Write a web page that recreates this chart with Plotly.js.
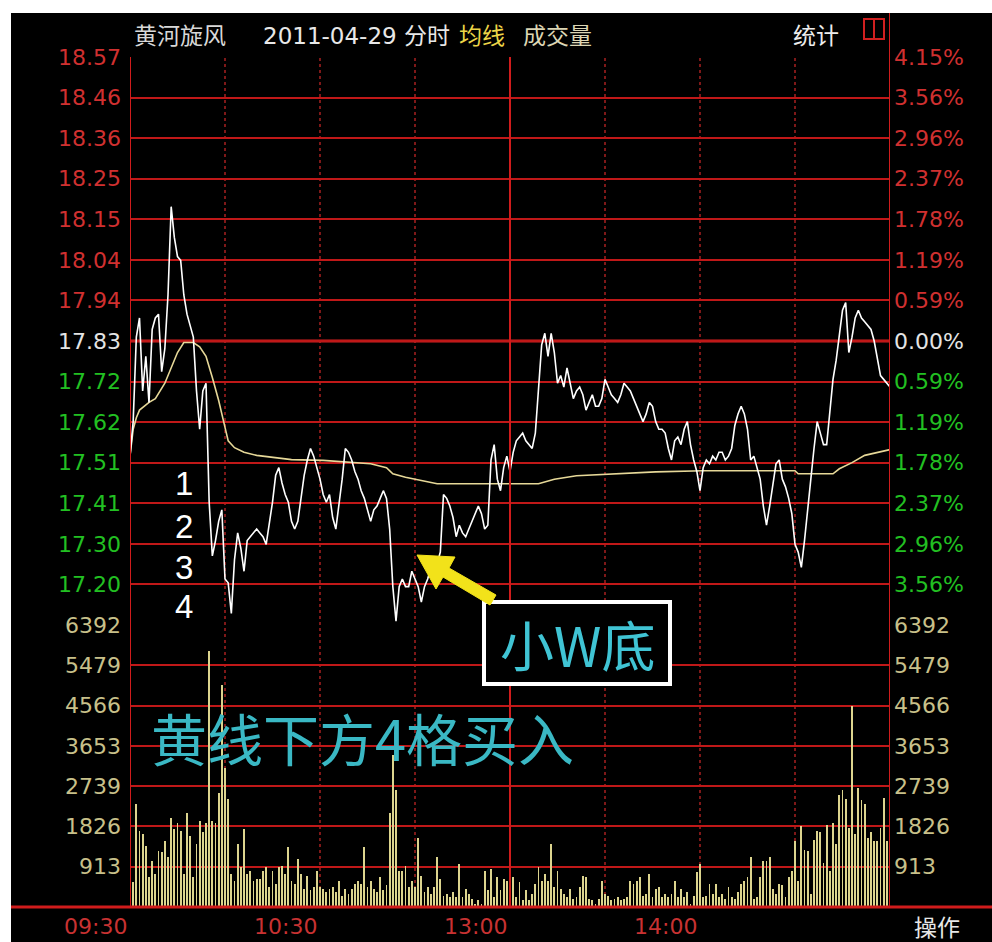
<!DOCTYPE html>
<html><head><meta charset="utf-8">
<script src="https://cdn.plot.ly/plotly-3.0.1.min.js"></script>
<style>
html,body{margin:0;padding:0;background:#fff;width:992px;height:942px;overflow:hidden}
#chart{position:absolute;left:11px;top:13px;width:981px;height:929px;background:#000}
</style></head><body><div id="chart"></div>
<script>
// ---- data ----
const prevClose = 17.83;
const priceTickLabels = ['17.20','17.30','17.41','17.51','17.62','17.72','17.83','17.94','18.04','18.15','18.25','18.36','18.46','18.57'];
const pctTickLabels = ['3.56%','2.96%','2.37%','1.78%','1.19%','0.59%','0.00%','0.59%','1.19%','1.78%','2.37%','2.96%','3.56%','4.15%'];
const volTickLabels = ['913','1826','2739','3653','4566','5479','6392'];
const timeTickLabels = ['09:30','10:30','13:00','14:00'];
const timeTickMinutes = [0,60,120,180];

const price = [
17.53,17.62,17.84,17.89,17.70,17.79,17.67,17.86,17.89,17.90,
17.75,17.81,17.95,18.18,18.10,18.05,18.04,17.95,17.90,17.87,
17.84,17.70,17.60,17.70,17.72,17.41,17.27,17.31,17.36,17.39,
17.21,17.20,17.12,17.26,17.33,17.29,17.23,17.31,17.32,17.33,
17.34,17.33,17.32,17.30,17.35,17.41,17.48,17.50,17.46,17.43,
17.41,17.36,17.34,17.36,17.42,17.48,17.52,17.55,17.53,17.50,
17.47,17.43,17.41,17.43,17.37,17.34,17.40,17.47,17.55,17.54,
17.52,17.49,17.47,17.44,17.42,17.39,17.36,17.39,17.40,17.42,
17.44,17.42,17.34,17.19,17.10,17.19,17.21,17.19,17.19,17.23,
17.21,17.19,17.15,17.19,17.21,17.24,17.22,17.25,17.28,17.43,
17.42,17.40,17.37,17.32,17.35,17.33,17.32,17.34,17.36,17.38,
17.40,17.38,17.34,17.35,17.52,17.56,17.47,17.44,17.50,17.53,
17.49,17.54,17.57,17.58,17.59,17.57,17.56,17.55,17.59,17.72,
17.82,17.85,17.79,17.85,17.80,17.72,17.74,17.71,17.76,17.72,
17.68,17.70,17.71,17.69,17.65,17.67,17.69,17.66,17.66,17.68,
17.73,17.71,17.69,17.68,17.67,17.69,17.72,17.71,17.70,17.68,
17.66,17.64,17.62,17.64,17.67,17.66,17.62,17.60,17.60,17.59,
17.55,17.52,17.57,17.58,17.56,17.60,17.62,17.56,17.52,17.49,
17.44,17.50,17.52,17.51,17.53,17.52,17.54,17.54,17.52,17.53,
17.55,17.61,17.64,17.66,17.64,17.60,17.52,17.53,17.50,17.47,
17.40,17.35,17.40,17.46,17.51,17.52,17.47,17.45,17.42,17.38,
17.30,17.28,17.24,17.31,17.40,17.47,17.55,17.62,17.59,17.56,
17.56,17.65,17.73,17.78,17.85,17.91,17.93,17.80,17.84,17.89,
17.91,17.89,17.88,17.87,17.86,17.83,17.78,17.74,17.73,17.72,
17.71
];

const avgMinutes = [0,1,2,3,6,8,11,13,15,17,20,22,24,26,28,30,31,33,36,40,46,51,61,69,76,81,83,87,92,97,129,131,134,141,154,166,181,210,211,222,224,228,232,236,240];
const avgPrice = [17.53,17.60,17.63,17.65,17.67,17.68,17.72,17.76,17.80,17.826,17.826,17.815,17.79,17.735,17.675,17.605,17.57,17.552,17.54,17.532,17.526,17.521,17.519,17.514,17.51,17.50,17.484,17.475,17.466,17.458,17.458,17.463,17.47,17.479,17.484,17.489,17.492,17.492,17.484,17.484,17.497,17.513,17.532,17.54,17.547];

const volume = [
5475,560,2325,1725,1650,1390,675,1050,750,1275,
1240,1500,1125,2025,1760,1910,1725,750,2140,1610,
675,1425,1950,1690,1910,5810,1950,1910,2590,5025,
3150,2440,750,600,1425,900,1760,750,825,600,
640,640,825,900,450,825,525,900,940,750,
1350,600,525,1090,750,410,710,375,450,825,
450,410,340,410,450,340,600,260,410,300,
410,525,600,525,1350,450,600,410,340,675,
375,490,2140,3450,2660,825,825,940,450,600,
450,1575,710,340,450,300,450,1125,640,260,
300,225,340,225,975,225,410,300,190,75,
150,75,825,375,865,225,675,375,640,600,
600,675,225,560,150,375,150,300,525,900,
600,750,600,1425,450,825,410,300,225,410,
190,225,450,710,675,190,150,75,190,600,
300,260,150,190,225,150,190,225,600,525,
600,675,260,300,750,225,410,450,225,300,
225,300,600,225,410,225,340,75,260,790,
975,225,260,525,300,525,225,300,190,450,
225,190,340,525,600,675,1125,190,225,675,
1050,1050,1125,410,300,525,490,225,675,825,
1500,600,1840,1290,1275,300,1520,1725,1700,1000,
1860,825,1900,1425,2540,2650,2440,1800,4550,1650,
2700,2420,2325,1575,1690,1500,1500,1800,2475,1500,
2650
];

// ---- helpers (layout only) ----
const minutes = price.map((_, i) => i);
const step = (parseFloat(priceTickLabels[priceTickLabels.length-1]) - prevClose) / 7;
const priceTickVals = priceTickLabels.map((_, i) => prevClose + (i - 6) * step);
const pRange = [prevClose - 7*step, prevClose + 7*step + 1e-6];
const volTickVals = volTickLabels.map(Number);
const RED='#d03030', WHITE='#e4e4e4', GREEN='#22c022', VOLC='#c8c08a';
const colorFor = i => i < 6 ? GREEN : (i === 6 ? WHITE : RED);
const priceText = priceTickLabels.map((t,i)=>`<span style="color:${colorFor(i)}">${t}</span>`);
const pctText = pctTickLabels.map((t,i)=>`<span style="color:${colorFor(i)}">${t}</span>`);

const PL=130, PR=890, PT=57, PB=907;
const px = x => (x-PL)/(PR-PL);
const py = y => (PB-y)/(PB-PT);
const volTop = py(625);

const lblFont = {family:'DejaVu Sans, sans-serif', size:22};
const gridRed = '#c01818';

const traces = [
  {x: minutes, y: volume, type:'bar', xaxis:'x', yaxis:'y3', width:0.62,
   marker:{color:'#dcd48e', line:{width:0}}, hoverinfo:'skip'},
  {x: avgMinutes, y: avgPrice, type:'scatter', mode:'lines', xaxis:'x', yaxis:'y',
   line:{color:'#e6d898', width:1.6}, hoverinfo:'skip'},
  {x: minutes, y: price, type:'scatter', mode:'lines', xaxis:'x', yaxis:'y',
   line:{color:'#ffffff', width:1.6}, hoverinfo:'skip'},
  {x:[0], y:[prevClose], type:'scatter', mode:'markers', xaxis:'x', yaxis:'y2', marker:{opacity:0}, hoverinfo:'skip'},
  {x:[0], y:[0], type:'scatter', mode:'markers', xaxis:'x', yaxis:'y4', marker:{opacity:0}, hoverinfo:'skip'}
];

const shapes = [];
[30,60,90,150,180,210].forEach(m => shapes.push({type:'line', xref:'x', yref:'paper', x0:m, x1:m, y0:0, y1:1,
  line:{color:'#a82020', width:1.5, dash:'dot'}, layer:'below'}));
[0,120].forEach(m => shapes.push({type:'line', xref:'x', yref:'paper', x0:m, x1:m, y0:0, y1:1,
  line:{color:'#d01c1c', width:2}, layer:'above'}));
shapes.push({type:'line', xref:'x', yref:'paper', x0:240, x1:240, y0:0, y1:py(13),
  line:{color:'#d01c1c', width:2}});
shapes.push({type:'line', xref:'paper', yref:'y', x0:0, x1:1, y0:prevClose, y1:prevClose,
  line:{color:'#d42020', width:3}, layer:'below'});
shapes.push({type:'line', xref:'paper', yref:'paper', x0:-0.2, x1:1.2, y0:0, y1:0,
  line:{color:'#d01c1c', width:3}});
shapes.push({type:'rect', xref:'paper', yref:'paper', x0:px(484), x1:px(670), y0:py(684), y1:py(602),
  fillcolor:'#000', line:{color:'#ffffff', width:4}});
const arrowPts = [[417,555],[455,557],[449,568],[496,595],[490,605],[443,577],[436,589]];
shapes.push({type:'path', xref:'paper', yref:'paper',
  path: 'M' + arrowPts.map(p => px(p[0]) + ',' + py(p[1])).join(' L') + ' Z',
  fillcolor:'#f2e21a', line:{color:'#f2e21a', width:1}});
shapes.push({type:'rect', xref:'paper', yref:'paper', x0:px(864), x1:px(884), y0:py(39), y1:py(19),
  line:{color:'#d02020', width:2}, fillcolor:'rgba(0,0,0,0)'});
shapes.push({type:'line', xref:'paper', yref:'paper', x0:px(874), x1:px(874), y0:py(39), y1:py(19),
  line:{color:'#d02020', width:2}});

const annotations = [];
timeTickMinutes.forEach((m,i) => annotations.push({x:m, y:0, xref:'x', yref:'paper', text:timeTickLabels[i],
  showarrow:false, xanchor:'right', yanchor:'top', yshift:-5, xshift:-1, font:{family:'DejaVu Sans', size:22, color:'#c83232'}}));
annotations.push({x:px(912), y:py(926), xref:'paper', yref:'paper', text:'操作', showarrow:false,
  xanchor:'left', yanchor:'middle', font:{family:'Noto Sans CJK SC', size:23, color:'#e8e8e8'}});
const titleParts = [
  {t:'黄河旋风', x:132, c:'#d8d8d8'},
  {t:'2011-04-29 分时', x:261, c:'#e8e8e8'},
  {t:'均线', x:457, c:'#ecd448'},
  {t:'成交量', x:521, c:'#dcd6b4'},
  {t:'统计', x:791, c:'#ececec'}
];
titleParts.forEach(p => annotations.push({x:px(p.x), y:py(36), xref:'paper', yref:'paper', text:p.t, showarrow:false,
  xanchor:'left', yanchor:'middle', font:{family:'DejaVu Sans, Noto Sans CJK SC', size:23, color:p.c}}));
['1','2','3','4'].forEach((n,i) => annotations.push({x:px(184), y:py([483,526,567,607][i]), xref:'paper', yref:'paper',
  text:n, showarrow:false, xanchor:'center', yanchor:'middle', borderpad:0,
  font:{family:'Liberation Sans, Arial', size:33, color:'#ffffff'}}));
annotations.push({x:px(577), y:py(643), xref:'paper', yref:'paper', text:'小W底', showarrow:false,
  xanchor:'center', yanchor:'middle', font:{family:'Noto Sans CJK SC', size:54, color:'#40c4d4'}});
annotations.push({x:px(149), y:py(736), xref:'paper', yref:'paper', text:'黄线下方4格买入', showarrow:false,
  xanchor:'left', yanchor:'middle', font:{family:'Noto Sans CJK SC', size:56, color:'#3ab8c4'}});

const layout = {
  width:981, height:929,
  margin:{l:119, r:102, t:44, b:35, pad:0},
  paper_bgcolor:'#000', plot_bgcolor:'#000',
  showlegend:false, hovermode:false, bargap:0,
  xaxis:{range:[0,240], anchor:'y3', showgrid:false, zeroline:false, showticklabels:false, showline:false, fixedrange:true},
  yaxis:{domain:[volTop,1], range:pRange, tickmode:'array', tickvals:priceTickVals, ticktext:priceText,
    showgrid:true, gridcolor:gridRed, gridwidth:2, zeroline:false, showline:false, tickfont:lblFont, ticklabelstandoff:8},
  yaxis2:{overlaying:'y', side:'right', range:pRange, tickmode:'array', tickvals:priceTickVals, ticktext:pctText,
    showgrid:false, zeroline:false, showline:false, tickfont:lblFont, ticklabelstandoff:3},
  yaxis3:{domain:[0,volTop], range:[0,6392.5], tickmode:'array', tickvals:volTickVals, ticktext:volTickLabels,
    showgrid:true, gridcolor:gridRed, gridwidth:2, zeroline:false, showline:false,
    tickfont:{family:'DejaVu Sans, sans-serif', size:22, color:VOLC}, ticklabelstandoff:8},
  yaxis4:{overlaying:'y3', side:'right', range:[0,6392.5], tickmode:'array', tickvals:volTickVals, ticktext:volTickLabels,
    showgrid:false, zeroline:false, showline:false,
    tickfont:{family:'DejaVu Sans, sans-serif', size:22, color:VOLC}, ticklabelstandoff:3},
  shapes: shapes,
  annotations: annotations
};

Plotly.newPlot('chart', traces, layout, {staticPlot:true, displayModeBar:false});
</script></body></html>
